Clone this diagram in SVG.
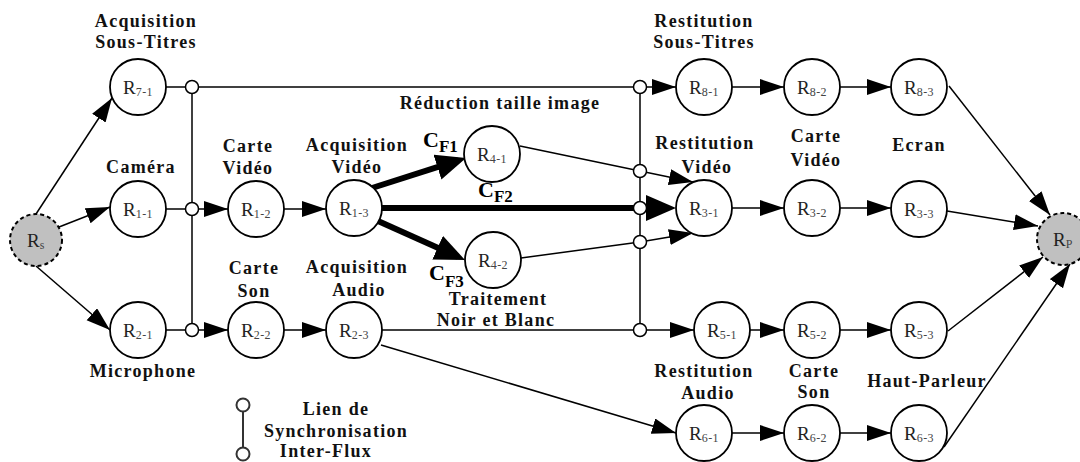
<svg xmlns="http://www.w3.org/2000/svg" width="1080" height="462" viewBox="0 0 1080 462">
  <style>
    .node circle { fill: #ffffff; stroke: #000000; stroke-width: 1.8; }
    .end circle { fill: #c0c0c0; stroke: #000000; stroke-width: 2; stroke-dasharray: 4 3; }
    .nid { font-family: "Liberation Serif", "Times New Roman", serif; font-size: 19px; fill: #222222; text-anchor: middle; }
    .sub { font-size: 12px; letter-spacing: 0.4px; fill: #444444; }
    .lbl { font-family: "Liberation Serif", "Times New Roman", serif; font-weight: bold; font-size: 18px; letter-spacing: 1.3px; fill: #111111; text-anchor: middle; }
    .cf { font-family: "Liberation Serif", "Times New Roman", serif; font-weight: bold; font-size: 22px; fill: #000000; }
    .cf tspan.s { font-size: 17px; }
    .thin { stroke: #000000; stroke-width: 1.5; fill: none; }
    .bold { stroke: #000000; stroke-width: 6; fill: none; }
    .sync { fill: #ffffff; stroke: #000000; stroke-width: 1.5; }
    .legend { stroke: #333333; stroke-width: 2; fill: #ffffff; }
  </style>
  <defs>
    <marker id="arrow" markerUnits="userSpaceOnUse" markerWidth="25" markerHeight="17" refX="24" refY="8" orient="auto">
      <path d="M0,0 L24,8 L0,16 z" fill="#000000"/>
    </marker>
    <marker id="arrowBold" markerUnits="userSpaceOnUse" markerWidth="31" markerHeight="27" refX="22" refY="13" orient="auto">
      <path d="M0,0 L30,13 L0,26 z" fill="#000000"/>
    </marker>
  </defs>

  <!-- connectors -->
  <g id="connectors">
    <!-- from the source -->
    <line class="thin" x1="36" y1="214" x2="112" y2="98" marker-end="url(#arrow)"/>
    <line class="thin" x1="59" y1="227" x2="110" y2="207" marker-end="url(#arrow)"/>
    <line class="thin" x1="36" y1="266" x2="110" y2="330" marker-end="url(#arrow)"/>

    <!-- synchronisation bars -->
    <line class="thin" x1="192" y1="87" x2="192" y2="330"/>
    <line class="thin" x1="640" y1="87" x2="640" y2="330"/>

    <!-- subtitles stream -->
    <line class="thin" x1="166" y1="87" x2="676" y2="87" marker-end="url(#arrow)"/>
    <line class="thin" x1="732" y1="87" x2="784" y2="87" marker-end="url(#arrow)"/>
    <line class="thin" x1="840" y1="87" x2="891" y2="87" marker-end="url(#arrow)"/>

    <!-- video stream -->
    <line class="thin" x1="166" y1="209" x2="228" y2="209" marker-end="url(#arrow)"/>
    <line class="thin" x1="284" y1="209" x2="326" y2="209" marker-end="url(#arrow)"/>
    <line class="bold" x1="372" y1="188" x2="458.4" y2="160.4" marker-end="url(#arrowBold)"/>
    <line class="bold" x1="382" y1="208" x2="668" y2="208" marker-end="url(#arrowBold)"/>
    <line class="bold" x1="378" y1="221" x2="457.7" y2="256.7" marker-end="url(#arrowBold)"/>
    <polyline class="thin" points="520,146 640,171 693,182" marker-end="url(#arrow)"/>
    <polyline class="thin" points="521,258 640,242 693,233" marker-end="url(#arrow)"/>
    <line class="thin" x1="732" y1="208" x2="784" y2="208" marker-end="url(#arrow)"/>
    <line class="thin" x1="840" y1="208" x2="891" y2="208" marker-end="url(#arrow)"/>

    <!-- audio stream -->
    <line class="thin" x1="166" y1="330" x2="228" y2="330" marker-end="url(#arrow)"/>
    <line class="thin" x1="284" y1="330" x2="326" y2="330" marker-end="url(#arrow)"/>
    <line class="thin" x1="382" y1="330" x2="694" y2="330" marker-end="url(#arrow)"/>
    <line class="thin" x1="750" y1="330" x2="784" y2="330" marker-end="url(#arrow)"/>
    <line class="thin" x1="840" y1="330" x2="891" y2="330" marker-end="url(#arrow)"/>
    <line class="thin" x1="381" y1="345" x2="676" y2="433" marker-end="url(#arrow)"/>
    <line class="thin" x1="732" y1="433" x2="784" y2="433" marker-end="url(#arrow)"/>
    <line class="thin" x1="840" y1="433" x2="891" y2="433" marker-end="url(#arrow)"/>

    <!-- to the sink -->
    <line class="thin" x1="949" y1="86" x2="1050" y2="215" marker-end="url(#arrow)"/>
    <line class="thin" x1="947" y1="211" x2="1038" y2="226" marker-end="url(#arrow)"/>
    <line class="thin" x1="948" y1="331" x2="1043" y2="257" marker-end="url(#arrow)"/>
    <line class="thin" x1="944" y1="447" x2="1070" y2="264" marker-end="url(#arrow)"/>

    <!-- synchronisation points -->
    <circle class="sync" cx="192" cy="87" r="6.5"/>
    <circle class="sync" cx="192" cy="209" r="6.5"/>
    <circle class="sync" cx="192" cy="330" r="6.5"/>
    <circle class="sync" cx="640" cy="87" r="6.5"/>
    <circle class="sync" cx="640" cy="171" r="6.5"/>
    <circle class="sync" cx="640" cy="208" r="6.5"/>
    <circle class="sync" cx="640" cy="242" r="6.5"/>
    <circle class="sync" cx="640" cy="330" r="6.5"/>
  </g>

  <!-- flow labels -->
  <text class="cf" x="423" y="147">C<tspan class="s" dy="5">F1</tspan></text>
  <text class="cf" x="478" y="197">C<tspan class="s" dy="5">F2</tspan></text>
  <text class="cf" x="429" y="280">C<tspan class="s" dy="7">F3</tspan></text>

  <!-- source and sink -->
  <g id="Rs" class="end">
    <circle cx="36" cy="240" r="26"/>
    <text class="nid" x="36" y="247">R<tspan class="sub" font-size="9" dy="2">s</tspan></text>
  </g>
  <g id="Rp" class="end">
    <circle cx="1063" cy="239" r="26"/>
    <text class="nid" x="1063" y="246">R<tspan class="sub" font-size="10" dy="2">P</tspan></text>
  </g>

  <!-- acquisition side -->
  <g id="R7-1" class="node">
    <circle cx="138" cy="87" r="28"/>
    <text class="nid" x="138" y="94">R<tspan class="sub" dy="2">7-1</tspan></text>
    <text class="lbl" x="146" y="27">Acquisition</text>
    <text class="lbl" x="146" y="48">Sous-Titres</text>
  </g>
  <g id="R1-1" class="node">
    <circle cx="138" cy="209" r="28"/>
    <text class="nid" x="138" y="216">R<tspan class="sub" dy="2">1-1</tspan></text>
    <text class="lbl" x="141" y="173">Caméra</text>
  </g>
  <g id="R2-1" class="node">
    <circle cx="138" cy="330" r="28"/>
    <text class="nid" x="138" y="337">R<tspan class="sub" dy="2">2-1</tspan></text>
    <text class="lbl" x="143" y="377">Microphone</text>
  </g>
  <g id="R1-2" class="node">
    <circle cx="256" cy="209" r="28"/>
    <text class="nid" x="256" y="216">R<tspan class="sub" dy="2">1-2</tspan></text>
    <text class="lbl" x="248" y="152">Carte</text>
    <text class="lbl" x="248" y="174">Vidéo</text>
  </g>
  <g id="R2-2" class="node">
    <circle cx="256" cy="330" r="28"/>
    <text class="nid" x="256" y="337">R<tspan class="sub" dy="2">2-2</tspan></text>
    <text class="lbl" x="254" y="274">Carte</text>
    <text class="lbl" x="254" y="297">Son</text>
  </g>
  <g id="R1-3" class="node">
    <circle cx="354" cy="208" r="28"/>
    <text class="nid" x="354" y="215">R<tspan class="sub" dy="2">1-3</tspan></text>
    <text class="lbl" x="357" y="151">Acquisition</text>
    <text class="lbl" x="357" y="173">Vidéo</text>
  </g>
  <g id="R2-3" class="node">
    <circle cx="354" cy="330" r="28"/>
    <text class="nid" x="354" y="337">R<tspan class="sub" dy="2">2-3</tspan></text>
    <text class="lbl" x="357" y="273">Acquisition</text>
    <text class="lbl" x="359" y="296">Audio</text>
  </g>

  <!-- processing -->
  <g id="R4-1" class="node">
    <circle cx="492" cy="154" r="28"/>
    <text class="nid" x="492" y="161">R<tspan class="sub" dy="2">4-1</tspan></text>
    <text class="lbl" x="500" y="109">Réduction taille image</text>
  </g>
  <g id="R4-2" class="node">
    <circle cx="493" cy="260" r="28"/>
    <text class="nid" x="493" y="267">R<tspan class="sub" dy="2">4-2</tspan></text>
    <text class="lbl" x="498" y="305">Traitement</text>
    <text class="lbl" x="496" y="326">Noir et Blanc</text>
  </g>

  <!-- restitution side -->
  <g id="R8-1" class="node">
    <circle cx="704" cy="87" r="28"/>
    <text class="nid" x="704" y="94">R<tspan class="sub" dy="2">8-1</tspan></text>
    <text class="lbl" x="704" y="27">Restitution</text>
    <text class="lbl" x="704" y="48">Sous-Titres</text>
  </g>
  <g id="R8-2" class="node">
    <circle cx="812" cy="87" r="28"/>
    <text class="nid" x="812" y="94">R<tspan class="sub" dy="2">8-2</tspan></text>
  </g>
  <g id="R8-3" class="node">
    <circle cx="919" cy="87" r="28"/>
    <text class="nid" x="919" y="94">R<tspan class="sub" dy="2">8-3</tspan></text>
  </g>
  <g id="R3-1" class="node">
    <circle cx="704" cy="208" r="28"/>
    <text class="nid" x="704" y="215">R<tspan class="sub" dy="2">3-1</tspan></text>
    <text class="lbl" x="705" y="149">Restitution</text>
    <text class="lbl" x="707" y="173">Vidéo</text>
  </g>
  <g id="R3-2" class="node">
    <circle cx="812" cy="208" r="28"/>
    <text class="nid" x="812" y="215">R<tspan class="sub" dy="2">3-2</tspan></text>
    <text class="lbl" x="816" y="142">Carte</text>
    <text class="lbl" x="816" y="166">Vidéo</text>
  </g>
  <g id="R3-3" class="node">
    <circle cx="919" cy="209" r="28"/>
    <text class="nid" x="919" y="216">R<tspan class="sub" dy="2">3-3</tspan></text>
    <text class="lbl" x="919" y="151">Ecran</text>
  </g>
  <g id="R5-1" class="node">
    <circle cx="722" cy="330" r="28"/>
    <text class="nid" x="722" y="337">R<tspan class="sub" dy="2">5-1</tspan></text>
  </g>
  <g id="R5-2" class="node">
    <circle cx="812" cy="330" r="28"/>
    <text class="nid" x="812" y="337">R<tspan class="sub" dy="2">5-2</tspan></text>
  </g>
  <g id="R5-3" class="node">
    <circle cx="919" cy="330" r="28"/>
    <text class="nid" x="919" y="337">R<tspan class="sub" dy="2">5-3</tspan></text>
  </g>
  <g id="R6-1" class="node">
    <circle cx="704" cy="433" r="28"/>
    <text class="nid" x="704" y="440">R<tspan class="sub" dy="2">6-1</tspan></text>
    <text class="lbl" x="704" y="377">Restitution</text>
    <text class="lbl" x="708" y="399">Audio</text>
  </g>
  <g id="R6-2" class="node">
    <circle cx="812" cy="433" r="28"/>
    <text class="nid" x="812" y="440">R<tspan class="sub" dy="2">6-2</tspan></text>
    <text class="lbl" x="814" y="377">Carte</text>
    <text class="lbl" x="814" y="398">Son</text>
  </g>
  <g id="R6-3" class="node">
    <circle cx="919" cy="433" r="28"/>
    <text class="nid" x="919" y="440">R<tspan class="sub" dy="2">6-3</tspan></text>
    <text class="lbl" x="927" y="387">Haut-Parleur</text>
  </g>

  <!-- legend -->
  <g id="legend">
    <line class="legend" x1="243" y1="412" x2="243" y2="447"/>
    <circle class="legend" stroke-width="1.5" cx="243" cy="405" r="6.5"/>
    <circle class="legend" stroke-width="1.5" cx="243" cy="454" r="6.5"/>
    <text class="lbl" x="336" y="415">Lien de</text>
    <text class="lbl" x="336" y="437">Synchronisation</text>
    <text class="lbl" x="326" y="457">Inter-Flux</text>
  </g>
</svg>
